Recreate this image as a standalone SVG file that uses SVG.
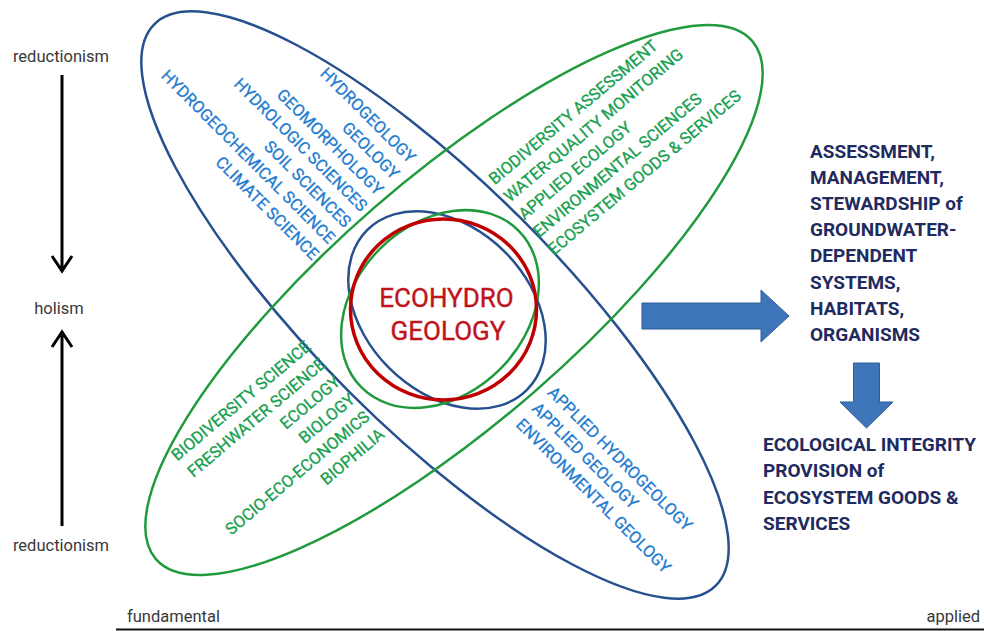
<svg xmlns="http://www.w3.org/2000/svg" width="984" height="631" viewBox="0 0 984 631">
<style>
text{font-family:Roboto,"Liberation Sans",Arial,sans-serif}
.eb{fill:none;stroke:#27508f;stroke-width:2.5}
.eg{fill:none;stroke:#1f9a3c;stroke-width:2.5}
.tb{font-size:16.5px;fill:#1e7bd0;stroke:#1e7bd0;stroke-width:0.3}
.tg{font-size:16.5px;fill:#17a04f;stroke:#17a04f;stroke-width:0.3}
.nv{font-size:19px;font-weight:bold;fill:#1f2b5f}
.lab{font-size:16.5px;fill:#383838}
.ax{stroke:#000;stroke-width:3;fill:none}
.blk{fill:#3e74b8;stroke:#2d5e9a;stroke-width:1}
</style>
<rect width="984" height="631" fill="#fff"/>

<g id="ellipse-geosciences">
<ellipse class="eb" cx="435" cy="305" rx="397" ry="122" transform="rotate(45 435 305)"/>
<g class="tb" transform="rotate(45)" text-anchor="end">
<text x="405" y="-173">HYDROGEOLOGY</text>
<text x="405" y="-150.2">GEOLOGY</text>
<text x="405" y="-127.4">GEOMORPHOLOGY</text>
<text x="405" y="-104.6">HYDROLOGIC SCIENCES</text>
<text x="405" y="-81.8">SOIL SCIENCES</text>
<text x="405" y="-59">HYDROGEOCHEMICAL SCIENCE</text>
<text x="405" y="-36.2">CLIMATE SCIENCE</text>
</g>
<g class="tb" transform="rotate(45)">
<text x="665" y="-108.4">APPLIED HYDROGEOLOGY</text>
<text x="665" y="-85.9">APPLIED GEOLOGY</text>
<text x="665" y="-63.4">ENVIRONMENTAL GEOLOGY</text>
</g>
</g>

<g id="ellipse-ecology">
<ellipse class="eg" cx="454" cy="300" rx="395" ry="122" transform="rotate(-41 454 300)"/>
<g class="tg" transform="rotate(-40)">
<text x="260" y="460">BIODIVERSITY ASSESSMENT</text>
<text x="260" y="483">WATER-QUALITY MONITORING</text>
<text x="260" y="506">APPLIED ECOLOGY</text>
<text x="260" y="529">ENVIRONMENTAL SCIENCES</text>
<text x="260" y="552">ECOSYSTEM GOODS &amp; SERVICES</text>
</g>
<g class="tg" transform="rotate(-40)" text-anchor="end">
<text x="15" y="467.5">BIODIVERSITY SCIENCE</text>
<text x="15" y="490.4">FRESHWATER SCIENCE</text>
<text x="15" y="513.3">ECOLOGY</text>
<text x="15" y="536.2">BIOLOGY</text>
<text x="15" y="559.1">SOCIO-ECO-ECONOMICS</text>
<text x="15" y="582">BIOPHILIA</text>
</g>
</g>

<g id="ecohydrogeology">
<ellipse class="eb" cx="447" cy="310" rx="113" ry="82" transform="rotate(45 447 310)"/>
<ellipse class="eg" cx="440" cy="309" rx="111" ry="85" transform="rotate(-45 440 309)"/>
<ellipse cx="443.5" cy="309.5" rx="93" ry="90.5" fill="none" stroke="#c00000" stroke-width="3.5"/>
<g text-anchor="middle" font-size="26" fill="#c0141c" stroke="#c0141c" stroke-width="0.4">
<text x="446.5" y="307">ECOHYDRO</text>
<text x="448" y="340">GEOLOGY</text>
</g>
</g>

<g id="outcomes" class="nv">
<text x="810" y="158">ASSESSMENT,</text>
<text x="810" y="184.1">MANAGEMENT,</text>
<text x="810" y="210.2">STEWARDSHIP of</text>
<text x="810" y="236.3">GROUNDWATER-</text>
<text x="810" y="262.4">DEPENDENT</text>
<text x="810" y="288.5">SYSTEMS,</text>
<text x="810" y="314.6">HABITATS,</text>
<text x="810" y="340.7">ORGANISMS</text>
</g>

<g id="benefits" class="nv">
<text x="763" y="451">ECOLOGICAL INTEGRITY</text>
<text x="763" y="477.3">PROVISION of</text>
<text x="763" y="503.6">ECOSYSTEM GOODS &amp;</text>
<text x="763" y="530">SERVICES</text>
</g>

<g id="connectors">
<path class="blk" d="M642,303 H761 V290 L789,316 L761,342 V329 H642 Z"/>
<path class="blk" d="M853.5,363 H879.5 V402 H893 L866.5,428 L840,402 H853.5 Z"/>
</g>

<g id="axis-vertical">
<text class="lab" x="61" y="62" text-anchor="middle">reductionism</text>
<text class="lab" x="59" y="314" text-anchor="middle">holism</text>
<text class="lab" x="61" y="551" text-anchor="middle">reductionism</text>
<path class="ax" d="M62,75 V270 M52,256 L62,271 L72,256"/>
<path class="ax" d="M62,526 V333 M52,347 L62,332 L72,347"/>
</g>

<g id="axis-horizontal">
<text class="lab" x="127" y="622">fundamental</text>
<text class="lab" x="980" y="622" text-anchor="end">applied</text>
<line x1="116" y1="629.5" x2="984" y2="629.5" stroke="#111" stroke-width="2"/>
</g>
</svg>
